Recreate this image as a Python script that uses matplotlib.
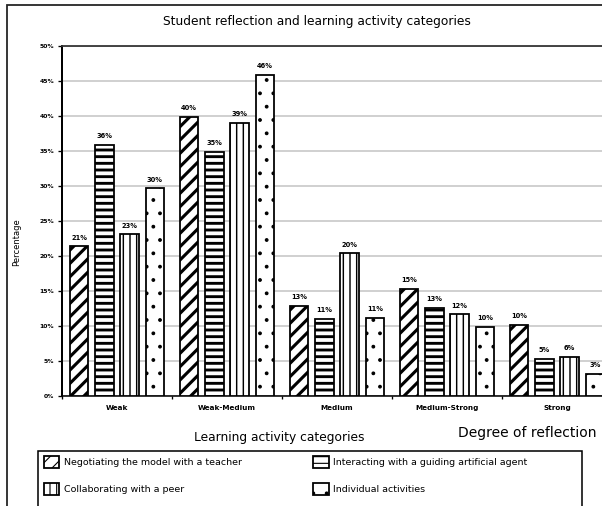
import matplotlib
matplotlib.use("Agg")
import matplotlib.pyplot as plt
from matplotlib.patches import Rectangle
import numpy as np

# degree of reflection (x categories)
categories = ["Weak", "Weak-Medium", "Medium", "Medium-Strong", "Strong"]

# percentage of student reflection per learning activity
negotiating = [21.4, 39.9, 12.9, 15.3, 10.2]
interacting = [35.9, 34.9, 11.0, 12.6, 5.3]
collaborating = [23.1, 39.0, 20.4, 11.7, 5.6]
individual = [29.7, 45.9, 11.2, 9.9, 3.2]

series_names = ["Negotiating the model with a teacher",
                "Interacting with a guiding artificial agent",
                "Collaborating with a peer",
                "Individual activities"]
y_ticks = [0, 5, 10, 15, 20, 25, 30, 35, 40, 45, 50]

DPI = 80
W, H = 602, 506
fig = plt.figure(figsize=(W / DPI, H / DPI), dpi=DPI)
plt.rcParams['font.family'] = ['DejaVu Sans']

# outer chart frame (runs off the right and bottom of the canvas)
fig.patches.append(Rectangle((7 / W, -0.05), 1.2, 1 - 5 / H + 0.05,
                             transform=fig.transFigure, fill=False,
                             edgecolor='#222222', linewidth=1.6))

ax = fig.add_axes([62 / W, 1 - 396 / H, 550 / W, 350 / H])

x = np.arange(len(categories))
offsets = [-0.345, -0.115, 0.115, 0.345]
width = 0.17
data = [negotiating, interacting, collaborating, individual]
hatches = ['//', '--', '||', '.']
hatch_lw = [2.8, 2.6, 1.3, 1.0]

bars = []
for vals, off, hatch, hlw, name in zip(data, offsets, hatches, hatch_lw, series_names):
    with plt.rc_context({'hatch.linewidth': hlw, 'hatch.color': 'black'}):
        b = ax.bar(x + off, vals, width, facecolor='white', edgecolor='black',
                   linewidth=1.6, hatch=hatch, label=name, zorder=3)
        for p in b.patches:
            if hasattr(p, 'set_hatch_linewidth'):
                p.set_hatch_linewidth(hlw)
    bars.append(b)
    for xi, v in zip(x + off, vals):
        ax.annotate(f"{round(v):d}%", (xi, v), xytext=(0, 5),
                    textcoords='offset points', ha='center', va='bottom',
                    fontsize=6, fontweight='bold')

ax.set_xlim(-0.5, len(categories) - 0.5)
ax.set_ylim(0, 50)
ax.set_yticks(y_ticks)
ax.set_yticklabels([f"{t}%" for t in y_ticks], fontsize=5.5, fontweight='bold')
ax.set_xticks(x)
ax.set_xticklabels(categories, fontsize=6.5, fontweight='bold')
ax.set_xticks(np.arange(len(categories) + 1) - 0.5, minor=True)
ax.tick_params(axis='x', which='major', length=0, pad=8)
ax.tick_params(axis='x', which='minor', length=3, width=1.2, direction='out')
ax.tick_params(axis='y', length=4, width=1.2, direction='out', pad=3)

ax.yaxis.grid(True, color='#c8c8c8', linewidth=1.5, zorder=0)
ax.set_axisbelow(True)
ax.spines['left'].set_linewidth(1.8)
ax.spines['bottom'].set_linewidth(1.4)
ax.spines['top'].set_linewidth(1.6)
ax.spines['top'].set_color('#333333')
ax.spines['right'].set_visible(False)

ax.set_ylabel("Percentage", fontsize=7.5, labelpad=2)
ax.yaxis.set_label_coords(-0.075, 0.44)

fig.text(317 / W, 1 - 22 / H, "Student reflection and learning activity categories",
         ha='center', va='center', fontsize=11)
fig.text(279 / W, 1 - 437 / H, "Learning activity categories",
         ha='center', va='center', fontsize=11)
fig.text(458 / W, 1 - 433 / H, "Degree of reflection",
         ha='left', va='center', fontsize=12.5)

# legend: two columns, filled row by row, inside a hand-drawn box
order = [0, 2, 1, 3]
leg = fig.legend([bars[i] for i in order], [series_names[i] for i in order],
                 ncol=2, loc='upper left',
                 bbox_to_anchor=(41 / W, 1 - 453 / H),
                 borderaxespad=0, fontsize=8.5, frameon=False,
                 handlelength=1.6, handleheight=1.6, handletextpad=0.5,
                 labelspacing=1.55, borderpad=0.3, columnspacing=7.6)
fig.patches.append(Rectangle((38 / W, -0.05), (582 - 38) / W, 1 - 451 / H + 0.05,
                             transform=fig.transFigure, fill=False,
                             edgecolor='black', linewidth=1.4))

fig.savefig("out.png", dpi=DPI)
